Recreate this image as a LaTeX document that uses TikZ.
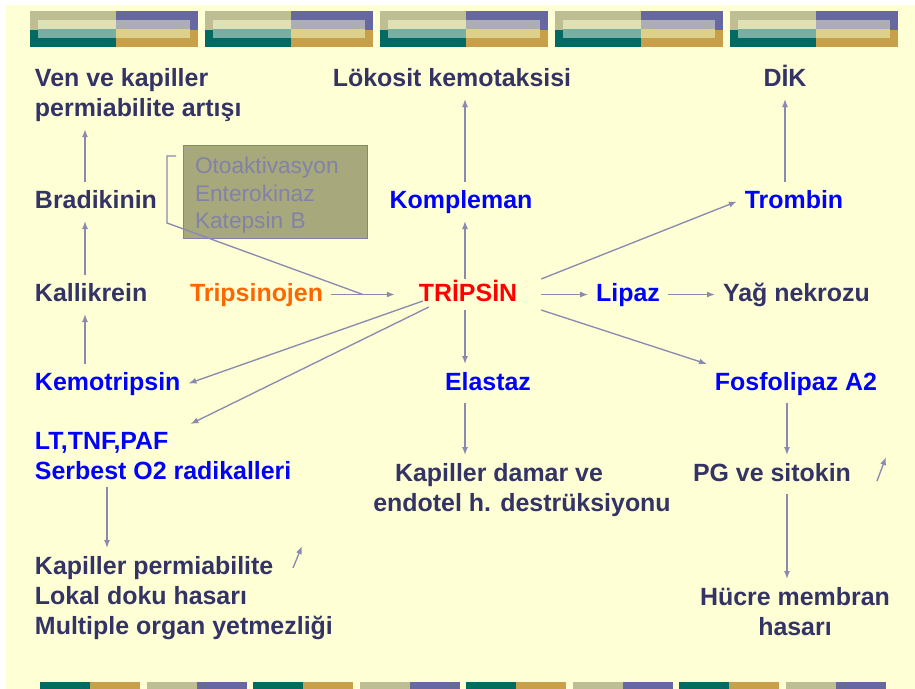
\documentclass[tikz,border=0pt]{standalone}
\usepackage{fontspec}
\setmainfont{Liberation Sans}
\usetikzlibrary{arrows.meta, positioning, calc}

\definecolor{bgyellow}{HTML}{FFFFD6}
\definecolor{ink}{HTML}{333366}
\definecolor{enzblue}{HTML}{0000FF}
\definecolor{tripred}{HTML}{FF0000}
\definecolor{triporange}{HTML}{FF6600}
\definecolor{arrowgray}{HTML}{8A8AB0}
\definecolor{boxfill}{HTML}{A8A87D}
\definecolor{boxtext}{HTML}{8282A8}
\definecolor{barOlive}{HTML}{BDBE93}
\definecolor{barPurple}{HTML}{6868A0}
\definecolor{barTeal}{HTML}{006B63}
\definecolor{barGold}{HTML}{C8A04A}
\definecolor{barOliveL}{HTML}{DFE0B4}
\definecolor{barPurpleL}{HTML}{ADADB6}
\definecolor{barTealL}{HTML}{78AFA2}
\definecolor{barGoldL}{HTML}{DDD08A}

\newcommand{\termfont}{\fontsize{18.7}{22.5}\selectfont\bfseries}
\newcommand{\boxfont}{\fontsize{17}{20.6}\selectfont}

\begin{document}
\begin{tikzpicture}[x=0.75pt, y=-0.75pt,
    term/.style={font=\termfont, text=ink, inner sep=0pt, outer sep=6pt, text height=13.5pt, text depth=3.75pt},
    multi/.style={font=\termfont, text=ink, inner sep=0pt, outer sep=6pt},
    arr/.style={draw=arrowgray, line width=1pt, -{Latex[length=6pt,width=4.5pt]}},
    link/.style={draw=arrowgray, line width=1pt}]
  \useasboundingbox (0,0) rectangle (915,689);

  % Slide background
  \fill[white] (0,0) rectangle (915,689);
  \fill[bgyellow] (6,5) rectangle (915,689);

  % Top bars
  \foreach \i in {0,...,4} {
    \begin{scope}[shift={(30+175*\i,11)}]
      \fill[barOlive] (0,0) rectangle (86,19);
      \fill[barPurple] (86,0) rectangle (168,19);
      \fill[barTeal] (0,19) rectangle (86,36);
      \fill[barGold] (86,19) rectangle (168,36);
      \fill[barOliveL] (8,9) rectangle (86,18);
      \fill[barPurpleL] (86,9) rectangle (160,18);
      \fill[barTealL] (8,18) rectangle (86,27);
      \fill[barGoldL] (86,18) rectangle (160,27);
    \end{scope}
  }

  % Bottom bars
  \foreach \i/\ca/\cb in {0/barTeal/barGold, 1/barOlive/barPurple, 2/barTeal/barGold, 3/barOlive/barPurple,
                          4/barTeal/barGold, 5/barOlive/barPurple, 6/barTeal/barGold, 7/barOlive/barPurple} {
    \fill[\ca] (40+106.5*\i,682) rectangle (90+106.5*\i,689);
    \fill[\cb] (90+106.5*\i,682) rectangle (140+106.5*\i,689);
  }

  % Left column
  \node[multi, anchor=north west, align=left] (ven) at (27,60) {Ven ve kapiller\\permiabilite artışı};
  \node[term, anchor=base west] (bradikinin) at (27,208) {Bradikinin};
  \node[term, anchor=base west] (kallikrein) at (27,301) {Kallikrein};
  \node[term, anchor=base west, text=enzblue] (kemo) at (27,390) {Kemotripsin};
  \node[multi, anchor=north west, align=left, text=enzblue] (lt) at (27,424) {LT,TNF,PAF\\Serbest O2 radikalleri};
  \node[multi, anchor=north west, align=left] (kapperm) at (27,548) {Kapiller permiabilite\\Lokal doku hasarı\\Multiple organ yetmezliği};

  % Activators
  \node[draw=boxtext, fill=boxfill, text=boxtext, font=\boxfont, align=left, inner xsep=9pt, inner ysep=3pt,
        outer sep=0pt, text width=120pt, minimum height=69.75pt] (activ) at (275,191.5)
        {\rule{0pt}{18.4pt}Otoaktivasyon\\Enterokinaz\\Katepsin B};
  \node[term, anchor=base west, text=triporange] (tripsinojen) at (182,301) {Tripsinojen};

  % Centre column
  \node[term, anchor=base] (lokosit) at (452,86) {Lökosit kemotaksisi};
  \node[term, anchor=base, text=enzblue] (kompleman) at (461,208) {Kompleman};
  \node[term, anchor=base, text=tripred, outer xsep=18pt, outer ysep=3pt] (tripsin) at (468,301) {TRİPSİN};
  \node[term, anchor=base, text=enzblue] (elastaz) at (488,390) {Elastaz};
  \node[multi, anchor=north, align=center] (kapdamar) at (522,455) {Kapiller damar ve\rule{34.5pt}{0pt}\\endotel h. destrüksiyonu};

  % Right column
  \node[term, anchor=base] (dik) at (785,86) {DİK};
  \node[term, anchor=base, text=enzblue] (trombin) at (794,208) {Trombin};
  \node[term, anchor=base, text=enzblue] (lipaz) at (628,301) {Lipaz};
  \node[term, anchor=base west] (yag) at (715,301) {Yağ nekrozu};
  \node[term, anchor=base, text=enzblue] (fosfo) at (796,390) {Fosfolipaz A2};
  \node[term, anchor=base] (pg) at (772,481) {PG ve sitokin};
  \node[multi, anchor=north, align=center] (hucre) at (795,579) {Hücre membran\\hasarı};

  % Vertical axes of the arrows
  \coordinate (lx) at (85,0);
  \coordinate (lx2) at (107,0);
  \coordinate (cx) at (465,0);
  \coordinate (rx) at (785,0);
  \coordinate (rx2) at (787,0);

  % Left chain
  \draw[arr] (bradikinin.north -| lx) -- (ven.south -| lx);
  \draw[arr] (kallikrein.north -| lx) -- (bradikinin.south -| lx);
  \draw[arr] (kemo.north -| lx) -- (kallikrein.south -| lx);
  \draw[arr] (lt.south -| lx2) -- (kapperm.north -| lx2);

  % Activation of trypsin
  \draw[arr] (tripsinojen.east) -- (tripsin.west);
  \draw[link] ($(activ.north west)+(-7,11)$) -- ($(activ.north west)+(-16,11)$)
    -- ($(activ.south west)+(-16,-15)$) -- ($(tripsinojen.east)!0.5!(tripsin.west)$);

  % From trypsin
  \draw[arr] (tripsin.north -| cx) -- (kompleman.south -| cx);
  \draw[arr] (kompleman.north -| cx) -- (lokosit.south -| cx);
  \draw[arr] (tripsin.south -| cx) -- (elastaz.north -| cx);
  \draw[arr] (elastaz.south -| cx) -- (kapdamar.north -| cx);
  \draw[arr] (tripsin.north east) -- (trombin.west);
  \draw[arr] (tripsin.east) -- (lipaz.west);
  \draw[arr] (lipaz.east) -- (yag.west);
  \draw[arr] (tripsin.south east) -- (fosfo.north west);
  \draw[arr] ($(tripsin.base west)+(28,0)$) -- (kemo.east);
  \draw[arr] ($(tripsin.south west)+(34,-3)$) -- ($(lt.north west)!0.6!(lt.north east)$);

  % Right chain
  \draw[arr] (trombin.north -| rx) -- (dik.south -| rx);
  \draw[arr] (fosfo.south -| rx2) -- (pg.north -| rx2);
  \draw[arr] (pg.south -| rx2) -- (hucre.north -| rx2);

  % Increase marks
  \coordinate (up1) at (293,568);
  \coordinate (up2) at (877,481);
  \draw[arr] (up1) -- ++(9,-22);
  \draw[arr] (up2) -- ++(9,-24);
\end{tikzpicture}
\end{document}
